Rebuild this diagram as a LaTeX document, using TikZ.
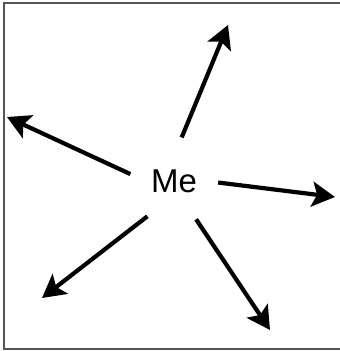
\documentclass[tikz,border=0pt]{standalone}
\usepackage{fontspec}
\setmainfont{Liberation Sans}
\usepackage{tikz}
\usetikzlibrary{arrows.meta}
\definecolor{frame}{HTML}{555555}
\definecolor{ink}{HTML}{000000}

\begin{document}
\begin{tikzpicture}[x=1pt,y=-1pt,
  outarrow/.style={draw=ink,line width=4.2pt,-{Stealth[length=23pt,width=25pt,inset=5pt]}}]
\useasboundingbox (0,0) rectangle (340,351);
% frame round the picture (right side runs off the page)
\draw[frame,line width=1.6pt] (350,3) -- (4,3) -- (4,349) -- (350,349);
% NODE: the centre
\node[circle,minimum size=88pt,inner sep=0pt,font=\fontsize{33}{39}\selectfont] (me) at (174,181) {Me};
% free ends of the arrows
\coordinate (up) at (228,25);
\coordinate (left) at (7,117);
\coordinate (right) at (335,197);
\coordinate (downleft) at (42,298);
\coordinate (downright) at (270,330);
% arrows out of me
\draw[outarrow] (me.80) -- (up);
\draw[outarrow] (me.171) -- (left);
\draw[outarrow] (me.-2) -- (right);
\draw[outarrow] (me.233) -- (downleft);
\draw[outarrow] (me.300) -- (downright);
\end{tikzpicture}
\end{document}
